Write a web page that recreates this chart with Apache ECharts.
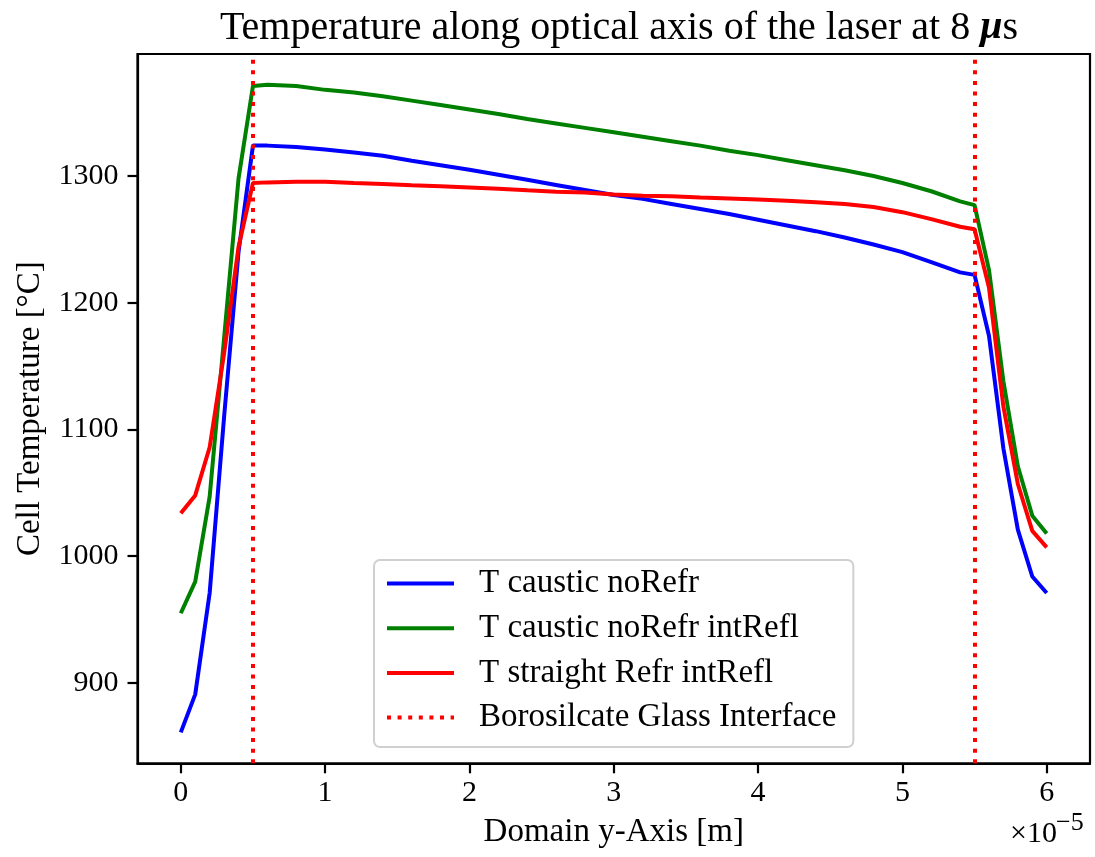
<!DOCTYPE html>
<html>
<head>
<meta charset="utf-8">
<script src="https://cdn.jsdelivr.net/npm/echarts@6/dist/echarts.min.js"></script>
<style>
  html, body { margin: 0; padding: 0; background: #fff; }
  #chart { width: 1095px; height: 857px; }
</style>
</head>
<body>
<div id="chart"></div>
<script>
// y position along the optical axis, in units of 1e-5 m
const yPos = [0, 0.1, 0.2, 0.3, 0.4, 0.5, 0.6, 0.8, 1.0, 1.2, 1.4, 1.6, 1.8, 2.0, 2.2, 2.4, 2.6, 2.8, 3.0,
  3.2, 3.4, 3.6, 3.8, 4.0, 4.2, 4.4, 4.6, 4.8, 5.0, 5.2, 5.4, 5.5, 5.6, 5.7, 5.8, 5.9, 6.0];

const tCausticNoRefr = [861, 891, 971, 1110, 1240, 1324, 1324, 1323, 1321, 1318.5, 1316, 1312, 1308.5, 1305,
  1301, 1297, 1293, 1289, 1285, 1282, 1278, 1274, 1270, 1265.5, 1261, 1256.5, 1251.5, 1246, 1240, 1232,
  1224, 1222, 1174, 1085, 1021, 984, 971];

const tCausticIntRefl = [955, 980, 1047, 1172, 1298, 1371, 1372, 1371, 1368, 1366, 1363, 1359.5, 1356, 1352.5,
  1349, 1345, 1341.5, 1338, 1334.5, 1331, 1327.5, 1324, 1320, 1316.5, 1312.5, 1308.5, 1304.5, 1300, 1294.5,
  1288, 1280, 1277, 1226, 1138, 1071, 1032, 1018];

const tStraightRefrIntRefl = [1034, 1048, 1086, 1160, 1244, 1294.5, 1295, 1295.5, 1295.5, 1294.5, 1293.7, 1292.8,
  1292, 1291, 1290, 1288.7, 1287.7, 1287, 1285.5, 1284.5, 1284, 1283, 1282.3, 1281.5, 1280.5, 1279.3, 1278,
  1275.5, 1271.5, 1266, 1260, 1258, 1212, 1118, 1057, 1020, 1007];

const glassInterfaces = [0.5, 5.5];

const xTicks = [0, 1, 2, 3, 4, 5, 6];
const yTicks = [900, 1000, 1100, 1200, 1300];

const font = "'Liberation Serif', 'DejaVu Serif', serif";

const pairs = (vals) => yPos.map((x, i) => [x, vals[i]]);

const lineSeries = (name, color, vals) => ({
  name: name,
  type: 'line',
  data: pairs(vals),
  showSymbol: false,
  symbol: 'none',
  smooth: false,
  lineStyle: { color: color, width: 4 },
  itemStyle: { color: color },
  z: 3
});

const chart = echarts.init(document.getElementById('chart'));

chart.setOption({
  animation: false,
  backgroundColor: '#fff',
  title: {
    text: 'Temperature along optical axis of the laser at 8 {mu|μ}s',
    left: 614,
    textAlign: 'center',
    top: 3,
    textStyle: {
      fontFamily: font,
      fontSize: 40,
      fontWeight: 'normal',
      color: '#000',
      rich: {
        mu: { fontFamily: font, fontSize: 40, fontStyle: 'italic', fontWeight: 'bold', color: '#000' }
      }
    }
  },
  grid: {
    left: 137.5,
    right: 5,
    top: 54,
    bottom: 93.7,
    show: true,
    borderColor: '#000',
    borderWidth: 2.2,
    backgroundColor: 'transparent'
  },
  legend: {
    orient: 'vertical',
    left: 374,
    top: 560,
    padding: [7, 17, 13, 11],
    itemWidth: 67,
    itemHeight: 4,
    itemGap: 11.7,
    backgroundColor: 'rgba(255,255,255,0.8)',
    borderColor: '#d0d0d0',
    borderWidth: 2,
    borderRadius: 6,
    itemStyle: { opacity: 0 },
    lineStyle: { width: 4 },
    textStyle: {
      fontFamily: font,
      fontSize: 33,
      lineHeight: 33,
      color: '#000',
      padding: [0, 0, 0, 20]
    },
    data: ['T caustic noRefr', 'T caustic noRefr intRefl', 'T straight Refr intRefl', 'Borosilcate Glass Interface']
  },
  xAxis: {
    type: 'value',
    min: -0.3,
    max: 6.3,
    name: 'Domain y-Axis [m]',
    nameLocation: 'middle',
    nameGap: 53,
    nameTextStyle: { fontFamily: font, fontSize: 33, color: '#000' },
    axisLine: { show: true, onZero: false, lineStyle: { color: '#000', width: 2.2 } },
    axisTick: { show: true, customValues: xTicks, length: 10, lineStyle: { color: '#000', width: 2.2 } },
    axisLabel: {
      customValues: xTicks,
      formatter: (v) => String(v),
      fontFamily: font,
      fontSize: 30,
      color: '#000',
      margin: 15
    },
    splitLine: { show: false }
  },
  yAxis: {
    type: 'value',
    min: 836.6,
    max: 1396.3,
    name: 'Cell Temperature [°C]',
    nameLocation: 'middle',
    nameRotate: 90,
    nameGap: 91,
    nameTextStyle: { fontFamily: font, fontSize: 33, color: '#000' },
    axisLine: { show: true, onZero: false, lineStyle: { color: '#000', width: 2.2 } },
    axisTick: { show: true, customValues: yTicks, length: 10, lineStyle: { color: '#000', width: 2.2 } },
    axisLabel: {
      customValues: yTicks,
      formatter: (v) => String(v),
      fontFamily: font,
      fontSize: 30,
      color: '#000',
      margin: 19
    },
    splitLine: { show: false }
  },
  graphic: [
    {
      type: 'text',
      left: 1010,
      top: 819,
      style: { text: '×10', fontFamily: font, fontSize: 30, fill: '#000' }
    },
    {
      type: 'text',
      left: 1056,
      top: 810,
      style: { text: '−5', fontFamily: font, fontSize: 26, fill: '#000' }
    }
  ],
  series: [
    lineSeries('T caustic noRefr', '#0000ff', tCausticNoRefr),
    lineSeries('T caustic noRefr intRefl', '#008000', tCausticIntRefl),
    lineSeries('T straight Refr intRefl', '#ff0000', tStraightRefrIntRefl),
    {
      name: 'Borosilcate Glass Interface',
      type: 'line',
      data: [],
      symbol: 'none',
      lineStyle: { color: '#ff0000', width: 4, type: [4, 6.6] },
      itemStyle: { color: '#ff0000' },
      markLine: {
        silent: true,
        symbol: ['none', 'none'],
        label: { show: false },
        lineStyle: { color: '#ff0000', width: 4, type: [4, 6.6] },
        data: glassInterfaces.map((x) => ({ xAxis: x }))
      },
      z: 4
    }
  ]
});
</script>
</body>
</html>
